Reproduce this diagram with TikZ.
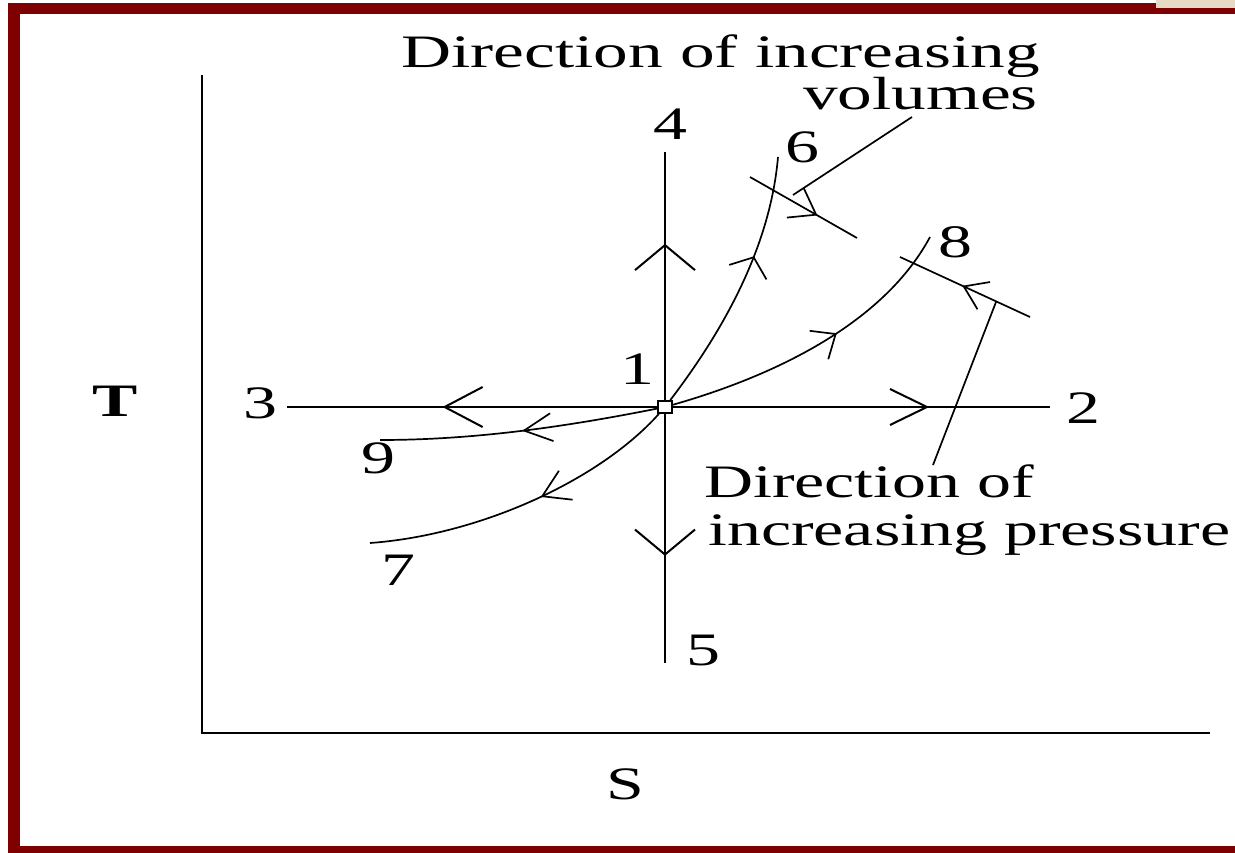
\documentclass[tikz,border=0pt]{standalone}
\usepackage{fontspec}
\usepackage{graphicx}
\setmainfont{Liberation Serif}
\usetikzlibrary{arrows.meta,decorations.markings}
\definecolor{frame}{HTML}{7F0000}
\definecolor{patch}{HTML}{E6DAC6}
\newcommand{\wide}[1]{\scalebox{1.46}[1]{#1}}
\newcommand{\wider}[1]{\scalebox{1.49}[1]{#1}}
\tikzset{
  txt/.style={inner sep=0pt, font=\fontsize{46.5}{50}\selectfont},
  axisline/.style={line width=2.2pt},
  mainline/.style={line width=2pt},
  curveline/.style={line width=1.7pt},
  barb/.style n args={3}{postaction={decorate}, decoration={markings, mark=at position #1 with {\arrow{Straight Barb[length=#2pt,width=#3pt]}}}}
}
\begin{document}
\begin{tikzpicture}[x=1pt,y=-1pt]
\useasboundingbox (0,0) rectangle (1235,853);
\fill[white] (0,0) rectangle (1235,853);
% frame
\fill[frame] (8,3) rectangle (1235,14);
\fill[frame] (8,3) rectangle (20,853);
\fill[frame] (8,846) rectangle (1235,853);
\fill[patch] (1156,0) rectangle (1235,8);

% axes
\coordinate (ytop) at (202,75);
\coordinate (orig) at (202,733);
\coordinate (xend) at (1210,733);
\draw[axisline] (ytop) -- (orig) -- (xend);
\node[txt, font=\fontsize{46.5}{50}\selectfont\bfseries] (T) at (115,401) {\wide{T}};
\node[txt] (S) at (625,784) {\wide{S}};

% central point
\node[draw, fill=white, minimum width=14pt, minimum height=12pt, inner sep=0pt, line width=1.6pt] (n1) at (665,407) {};
\coordinate (p2) at (1050,407);
\coordinate (p3) at (287,407);
\coordinate (p4) at (665,152);
\coordinate (p5) at (665,663);
\coordinate (p6) at (778,157);
\coordinate (p7) at (370,543);
\coordinate (p8) at (930,237);
\coordinate (p9) at (380,440);

\draw[mainline, barb={0.68}{37}{36}] (n1) -- (p2);
\draw[mainline, barb={0.58}{38}{40}] (n1) -- (p3);
\draw[mainline, barb={0.63}{25}{60}] (n1) -- (p4);
\draw[mainline, barb={0.57}{25}{60}] (n1) -- (p5);

\draw[curveline, barb={0.62}{16}{40}] (n1) .. controls (720,335) and (770,250) .. (p6);
\draw[curveline, barb={0.57}{20}{34}] (n1) .. controls (760,380) and (880,330) .. (p8);
\draw[curveline, barb={0.49}{28}{28}] (n1) .. controls (560,428) and (470,440) .. (p9);
\draw[curveline, barb={0.45}{26}{32}] (n1) .. controls (600,480) and (480,535) .. (p7);

% labels
\node[txt] (l1) at (637,369) {\wide{1}};
\node[txt] (l2) at (1083,408) {\wide{2}};
\node[txt] (l3) at (260,403) {\wide{3}};
\node[txt] (l4) at (670,124) {\wide{4}};
\node[txt] (l5) at (703,650) {\wide{5}};
\node[txt] (l6) at (802,147) {\wide{6}};
\node[txt] (l7) at (398,570) {\wide{7}};
\node[txt] (l8) at (955,242) {\wide{8}};
\node[txt] (l9) at (378,458) {\wide{9}};

% cross lines
\coordinate (a1) at (750,177);
\coordinate (a2) at (857,238);
\draw[curveline, barb={0.63}{24}{34}] (a1) -- (a2);
\coordinate (b1) at (1030,317);
\coordinate (b2) at (900,257);
\draw[curveline, barb={0.52}{22}{30}] (b1) -- (b2);

% texts
\node[txt, anchor=base west] (t1) at (401,68) {\wider{Direction of increasing}};
\node[txt, anchor=base east] (t2) at (1038,110) {\wider{volumes}};
\node[txt, anchor=base west] (t3) at (704,497) {\wide{Direction of}};
\node[txt, anchor=base west] (t4) at (708,545) {\wide{increasing pressure}};

% pointers
\coordinate (vp) at (912,117);
\coordinate (vq) at (793,195);
\draw[curveline] (vp) -- (vq);
\coordinate (pp) at (996,302);
\coordinate (pq) at (933,465);
\draw[curveline] (pp) -- (pq);
\end{tikzpicture}
\end{document}
